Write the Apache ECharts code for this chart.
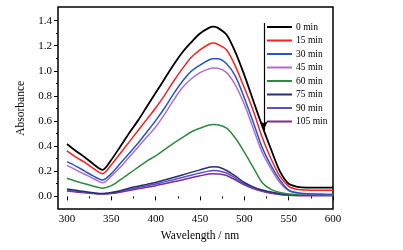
<!DOCTYPE html>
<html>
<head>
<meta charset="utf-8">
<script src="https://cdn.jsdelivr.net/npm/echarts@6/dist/echarts.min.js"></script>
<style>html,body{margin:0;padding:0;background:#fff}#c{width:403px;height:250px}</style>
</head>
<body>
<div id="c"></div>
<script>
const wavelengths = [300,310,320,330,340,350,360,370,380,390,400,410,420,430,440,450,460,465,470,480,490,500,510,520,530,540,550,560,570,580,590,600];
const seriesNames = ['0 min','15 min','30 min','45 min','60 min','75 min','90 min','105 min'];
const a0   = [0.415,0.36,0.31,0.255,0.21,0.29,0.394,0.50,0.60,0.71,0.82,0.93,1.04,1.14,1.22,1.29,1.335,1.345,1.335,1.28,1.14,0.96,0.76,0.56,0.375,0.20,0.10,0.076,0.07,0.07,0.07,0.069];
const a15  = [0.36,0.31,0.27,0.22,0.18,0.25,0.34,0.43,0.52,0.61,0.70,0.80,0.91,1.01,1.10,1.16,1.205,1.214,1.205,1.16,1.03,0.86,0.68,0.47,0.30,0.16,0.08,0.055,0.05,0.048,0.048,0.048];
const a30  = [0.275,0.24,0.20,0.16,0.13,0.18,0.26,0.34,0.42,0.51,0.60,0.70,0.81,0.91,0.99,1.04,1.08,1.09,1.09,1.05,0.95,0.78,0.59,0.39,0.245,0.13,0.05,0.028,0.02,0.018,0.016,0.015];
const a45  = [0.245,0.21,0.175,0.14,0.107,0.16,0.23,0.31,0.39,0.47,0.55,0.65,0.76,0.86,0.93,0.98,1.01,1.017,1.015,0.98,0.88,0.73,0.54,0.35,0.22,0.11,0.045,0.025,0.018,0.015,0.014,0.013];
const a60  = [0.143,0.12,0.10,0.08,0.065,0.085,0.13,0.18,0.23,0.28,0.32,0.37,0.42,0.465,0.51,0.54,0.565,0.57,0.568,0.54,0.46,0.35,0.23,0.11,0.055,0.03,0.018,0.015,0.015,0.015,0.015,0.015];
const a75  = [0.058,0.048,0.038,0.028,0.022,0.03,0.045,0.065,0.08,0.095,0.11,0.13,0.15,0.17,0.19,0.21,0.23,0.234,0.233,0.205,0.16,0.11,0.075,0.05,0.035,0.02,0.013,0.01,0.01,0.01,0.01,0.01];
const a90  = [0.048,0.04,0.032,0.025,0.02,0.026,0.04,0.055,0.07,0.085,0.098,0.115,0.132,0.15,0.168,0.185,0.20,0.205,0.203,0.185,0.145,0.10,0.068,0.045,0.03,0.017,0.01,0.008,0.008,0.008,0.008,0.008];
const a105 = [0.042,0.035,0.028,0.022,0.018,0.022,0.033,0.046,0.06,0.072,0.085,0.10,0.115,0.13,0.148,0.163,0.177,0.18,0.178,0.165,0.13,0.092,0.062,0.04,0.025,0.014,0.008,0.005,0.005,0.005,0.005,0.005];
const xTicks = [300,350,400,450,500,550,600];
const yTicks = [0.0,0.2,0.4,0.6,0.8,1.0,1.2,1.4];
const arrowFrom = [522, 1.373];
const arrowTo = [522, 0.526];

const allData = [a0,a15,a30,a45,a60,a75,a90,a105];
const colors = ['#000000','#ff1f1f','#2457c5','#b26ccb','#2e8b3e','#2b2f6b','#5a50cf','#7d2d8f'];
const font = 'Liberation Serif';

const series = seriesNames.map((n,i)=>({
  name:n, type:'line', xAxisIndex:1, yAxisIndex:1,
  data: wavelengths.map((w,j)=>[w, allData[i][j]]),
  symbol:'none', smooth:0.3,
  lineStyle:{color:colors[i], width: i===0?1.8:1.5},
  itemStyle:{color:colors[i]},
  z: 10 - i
}));
series[0].markLine = {
  silent:true, symbol:['none','arrow'], symbolSize:[6,9],
  label:{show:false},
  lineStyle:{color:'#000', width:1.2, type:'solid'},
  data:[[{coord:arrowFrom},{coord:arrowTo}]]
};

const chart = echarts.init(document.getElementById('c'), null, {renderer:'canvas'});
chart.setOption({
  animation:false,
  backgroundColor:'#fff',
  grid:[
    {left:58, right:70, top:7, bottom:41, show:true, borderColor:'#000', borderWidth:1.5, backgroundColor:'transparent'},
    {left:67, right:70, top:7, bottom:41},
    {left:58, right:70, top:20.7, bottom:54}
  ],
  xAxis:[
    {gridIndex:0, type:'value', min:290, max:600, show:false},
    {gridIndex:1, type:'value', min:xTicks[0], max:xTicks[xTicks.length-1], interval:50,
     axisLine:{show:false}, splitLine:{show:false},
     axisTick:{show:true, inside:false, length:4, lineStyle:{color:'#000', width:1}},
     minorTick:{show:true, splitNumber:2, length:2, lineStyle:{color:'#000', width:1}},
     axisLabel:{color:'#000', fontFamily:font, fontSize:11, margin:5},
     name:'Wavelength / nm', nameLocation:'middle', nameGap:17,
     nameTextStyle:{color:'#000', fontFamily:font, fontSize:11.5}},
    {gridIndex:2, type:'value', show:false, min:0, max:1}
  ],
  yAxis:[
    {gridIndex:0, type:'value', min:-0.1, max:1.5, show:false},
    {gridIndex:1, type:'value', min:-0.1, max:1.5, show:false},
    {gridIndex:2, type:'value', min:yTicks[0], max:yTicks[yTicks.length-1], interval:0.2,
     axisLine:{show:false}, splitLine:{show:false},
     axisTick:{show:true, inside:false, length:4, lineStyle:{color:'#000', width:1}},
     minorTick:{show:true, splitNumber:2, length:2, lineStyle:{color:'#000', width:1}},
     axisLabel:{color:'#000', fontFamily:font, fontSize:11, margin:6, formatter:v=>v.toFixed(1)},
     name:'Absorbance', nameLocation:'middle', nameGap:23,
     nameTextStyle:{color:'#000', fontFamily:font, fontSize:11.5}}
  ],
  legend:{
    data:seriesNames, orient:'vertical', left:267, top:22,
    icon:'rect', itemWidth:25, itemHeight:2, itemGap:3.5,
    textStyle:{color:'#000', fontFamily:font, fontSize:9.5, lineHeight:10, padding:[0,0,0,-1]},
    padding:0
  },
  series:series
});
</script>
</body>
</html>
